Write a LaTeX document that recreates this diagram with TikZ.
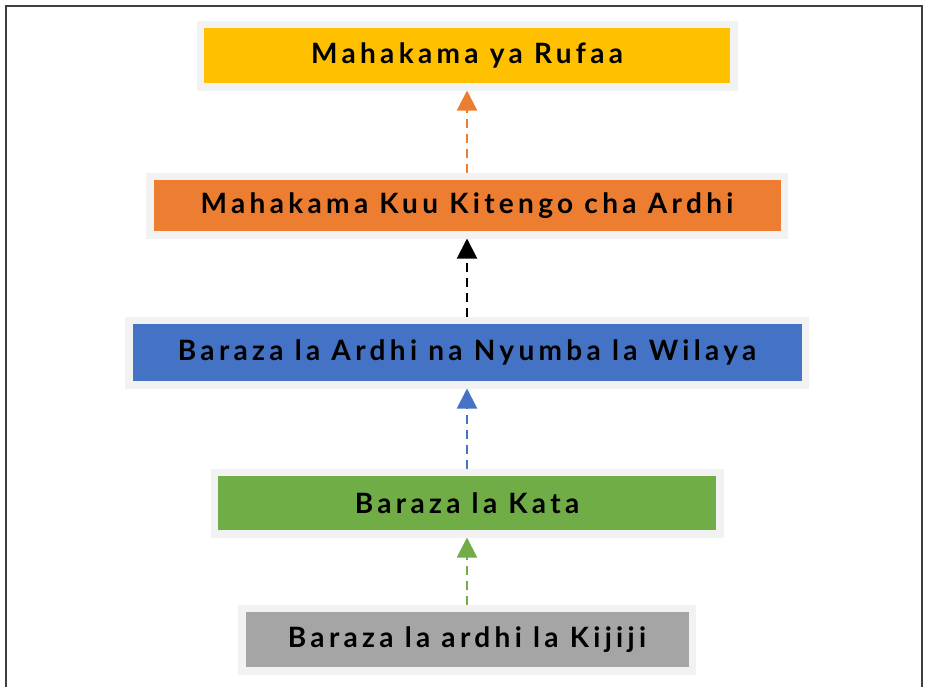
\documentclass[tikz,border=0pt]{standalone}
\usepackage{fontspec}
\setmainfont{Lato}[LetterSpace=15.5]
\usetikzlibrary{arrows.meta}
\definecolor{ringgray}{HTML}{F2F2F2}
\definecolor{cyellow}{HTML}{FFC000}
\definecolor{corange}{HTML}{ED7D31}
\definecolor{cblue}{HTML}{4472C4}
\definecolor{cgreen}{HTML}{70AD47}
\definecolor{cgray}{HTML}{A5A5A5}
\definecolor{framecol}{HTML}{3F3F3F}
\tikzset{
  level/.style={draw=ringgray, line width=7.5pt, fill=#1, inner sep=0pt,
    font=\fontsize{28}{32}\selectfont\bfseries, text=black},
  uplink/.style={draw=#1, line width=2pt, dash pattern=on 9pt off 6pt,
    -{Triangle[width=20pt,length=20pt,sep=0pt]}, shorten >=0pt}
}
\begin{document}
\begin{tikzpicture}[x=1pt, y=-1pt]
  \useasboundingbox (0,0) rectangle (925,686);
  \begin{scope}
    \clip (0,0) rectangle (925,686);
    \draw[framecol, line width=1.5pt] (6,6) rectangle (922,700);
  \end{scope}

  \node[level=cyellow, minimum width=533.5pt, minimum height=62.5pt] (rufaa) at (467,55.5) {Mahakama ya Rufaa};
  \node[level=corange, minimum width=634.5pt, minimum height=58.5pt] (kuu) at (467,205.5) {Mahakama Kuu Kitengo cha Ardhi};
  \node[level=cblue, minimum width=676.5pt, minimum height=64.5pt] (wilaya) at (467,352.5) {Baraza la Ardhi na Nyumba la Wilaya};
  \node[level=cgreen, minimum width=505.5pt, minimum height=61.5pt] (kata) at (467,503) {Baraza la Kata};
  \node[level=cgray, minimum width=450.5pt, minimum height=62.5pt] (kijiji) at (467,639.5) {Baraza la ardhi la Kijiji};

  \draw[uplink=corange] (kuu.north) -- (rufaa.south);
  \draw[uplink=black] (wilaya.north) -- (kuu.south);
  \draw[uplink=cblue] (kata.north) -- (wilaya.south);
  \draw[uplink=cgreen] (kijiji.north) -- (kata.south);
\end{tikzpicture}
\end{document}
